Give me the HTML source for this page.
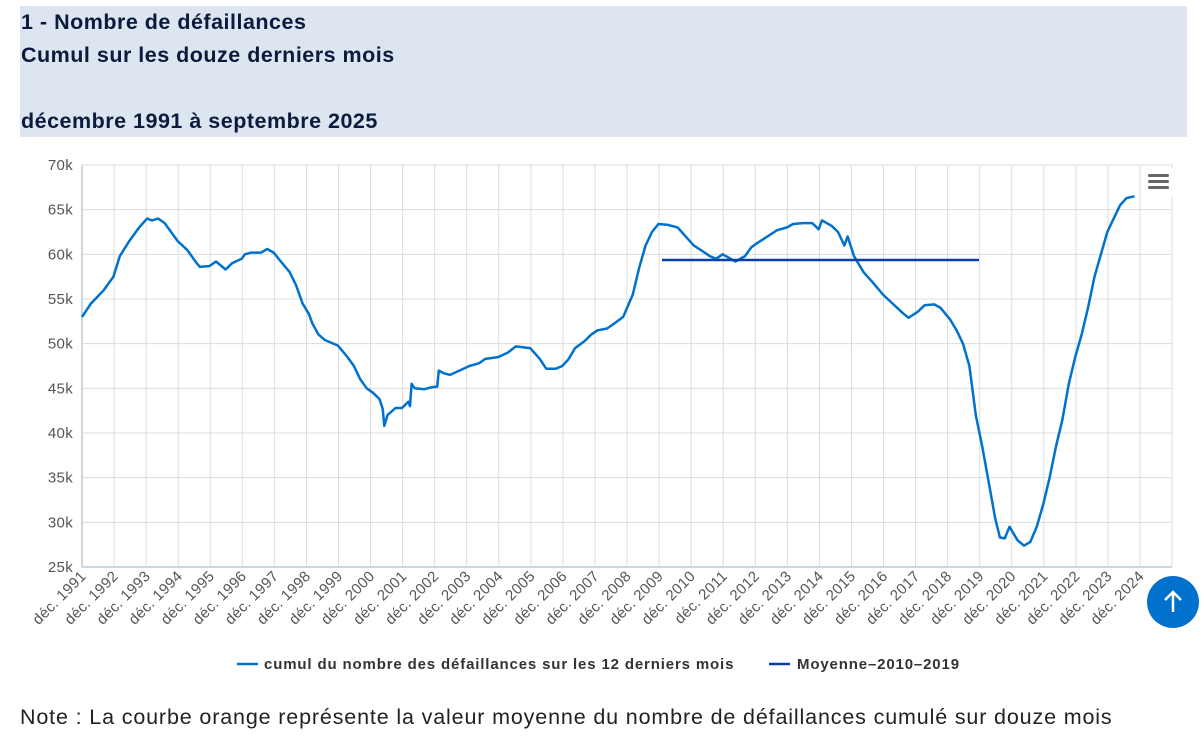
<!DOCTYPE html>
<html><head><meta charset="utf-8"><style>
body{margin:0;width:1204px;height:742px;background:#fff;font-family:"Liberation Sans",sans-serif;overflow:hidden;position:relative}
.hd{position:absolute;left:20px;top:6px;width:1167px;height:131px;background:#dce5f0;color:#0c1a3d;font-weight:bold;font-size:21.5px;letter-spacing:0.5px;line-height:33px}
.hd div{padding-left:1px}
.note{position:absolute;left:20px;top:705px;font-size:21.5px;letter-spacing:0.85px;color:#222}
</style></head><body>
<div class="hd"><div style="margin-top:0px">1 - Nombre de défaillances</div><div>Cumul sur les douze derniers mois</div><div>&nbsp;</div><div>décembre 1991 à septembre 2025</div></div>
<svg id="s" width="1204" height="742" style="position:absolute;left:0;top:0"></svg>
<div class="note">Note : La courbe orange représente la valeur moyenne du nombre de défaillances cumulé sur douze mois</div>
<script>
var d=[1991.92,53,1992.2,54.5,1992.6,56,1992.9,57.5,1993.1,59.8,1993.4,61.5,1993.7,63,1993.95,64,1994.1,63.8,1994.3,64,1994.5,63.5,1994.7,62.5,1994.9,61.5,1995.2,60.5,1995.5,59,1995.6,58.6,1995.9,58.7,1996.1,59.2,1996.4,58.3,1996.6,59,1996.9,59.5,1997.0,60,1997.2,60.2,1997.5,60.2,1997.7,60.6,1997.9,60.2,1998.1,59.3,1998.4,58,1998.6,56.5,1998.8,54.5,1999.0,53.3,1999.1,52.3,1999.3,51,1999.5,50.4,1999.9,49.8,2000.2,48.5,2000.4,47.5,2000.6,46,2000.8,45.0,2001.0,44.5,2001.2,43.8,2001.3,42.7,2001.35,40.8,2001.45,42,2001.7,42.8,2001.9,42.8,2002.1,43.5,2002.15,43,2002.2,45.5,2002.3,45,2002.6,44.9,2002.8,45.1,2003.0,45.2,2003.05,47,2003.2,46.7,2003.4,46.5,2003.7,47,2004.0,47.5,2004.3,47.8,2004.5,48.3,2004.9,48.5,2005.2,49,2005.45,49.7,2005.9,49.5,2006.2,48.3,2006.4,47.2,2006.7,47.2,2006.9,47.5,2007.1,48.3,2007.3,49.5,2007.6,50.3,2007.8,51,2008.0,51.5,2008.3,51.7,2008.5,52.2,2008.8,53,2009.1,55.5,2009.3,58.5,2009.5,61,2009.7,62.5,2009.9,63.4,2010.2,63.3,2010.5,63,2010.8,61.8,2011.0,61,2011.3,60.3,2011.5,59.8,2011.7,59.5,2011.9,60,2012.1,59.6,2012.3,59.2,2012.6,59.8,2012.8,60.8,2013.0,61.3,2013.3,62,2013.6,62.7,2013.9,63,2014.1,63.4,2014.4,63.5,2014.7,63.5,2014.9,62.8,2015.0,63.8,2015.3,63.2,2015.5,62.5,2015.7,61,2015.8,62,2016.0,59.8,2016.3,58,2016.6,56.8,2016.9,55.5,2017.2,54.5,2017.5,53.5,2017.7,52.9,2018.0,53.6,2018.2,54.3,2018.5,54.4,2018.7,54,2019.0,52.7,2019.2,51.5,2019.4,50,2019.6,47.5,2019.8,42,2020.0,38.5,2020.2,34.5,2020.4,30.5,2020.55,28.3,2020.7,28.2,2020.85,29.5,2021.1,28,2021.3,27.4,2021.5,27.8,2021.7,29.5,2021.9,32,2022.1,35,2022.3,38.5,2022.5,41.5,2022.7,45.5,2022.9,48.5,2023.1,51,2023.3,54,2023.5,57.5,2023.7,60,2023.9,62.5,2024.1,64,2024.3,65.5,2024.5,66.3,2024.75,66.5];
function X(y){return 82+(y-1991.92)*32.06}
function Y(v){return 567-(v-25)*8.933}
var h='';
for(var k=25;k<=70;k+=5){var y=Y(k);h+='<line x1="82" x2="1172" y1="'+y+'" y2="'+y+'" stroke="#dcdcdc"/>';h+='<text x="73" y="'+(y+5)+'" text-anchor="end" font-size="15" letter-spacing="0.3" fill="#555">'+k+'k</text>';}
for(var i=0;i<=34;i++){var x=82+i*32.06;if(x>1173)break;h+='<line x1="'+x+'" x2="'+x+'" y1="165" y2="567" stroke="#dcdcdc"/>';
if(i<=33)h+='<text transform="translate('+(x+5)+',577) rotate(-45)" text-anchor="end" font-size="15" letter-spacing="0.3" fill="#555">déc. '+(1991+i)+'</text>';}
h+='<line x1="1172" x2="1172" y1="165" y2="567" stroke="#dcdcdc"/>';
h+='<line x1="82" x2="82" y1="165" y2="567" stroke="#ccd6e0" stroke-width="2"/><line x1="82" x2="1172" y1="567" y2="567" stroke="#ccd6e0" stroke-width="2"/>';
var p='';for(var i=0;i<d.length;i+=2)p+=(i?'L':'M')+X(d[i]).toFixed(1)+','+Y(d[i+1]).toFixed(1);
h+='<path d="'+p+'" fill="none" stroke="#0072ce" stroke-width="2.5" stroke-linejoin="round"/>';
h+='<line x1="662" x2="979" y1="260" y2="260" stroke="#0a3ea8" stroke-width="2.5"/>';
h+='<rect x="1142" y="168" width="32" height="28" fill="#fff"/>';
for(var j=0;j<3;j++)h+='<rect x="1148" y="'+(174+j*6)+'" width="21" height="3" rx="1.5" fill="#666"/>';
h+='<circle cx="1173" cy="602" r="26" fill="#0072ce"/><path d="M1173 612V592M1165 600L1173 592L1181 600" stroke="#fff" stroke-width="2.5" fill="none"/>';
h+='<line x1="237" x2="258" y1="664" y2="664" stroke="#0072ce" stroke-width="2.5"/><text x="264" y="669" font-size="15" letter-spacing="0.85" font-weight="bold" fill="#333">cumul du nombre des défaillances sur les 12 derniers mois</text>';
h+='<line x1="769" x2="790" y1="664" y2="664" stroke="#0a3ea8" stroke-width="2.5"/><text x="797" y="669" font-size="15" letter-spacing="0.85" font-weight="bold" fill="#333">Moyenne–2010–2019</text>';
document.getElementById('s').innerHTML=h;
</script>
</body></html>
